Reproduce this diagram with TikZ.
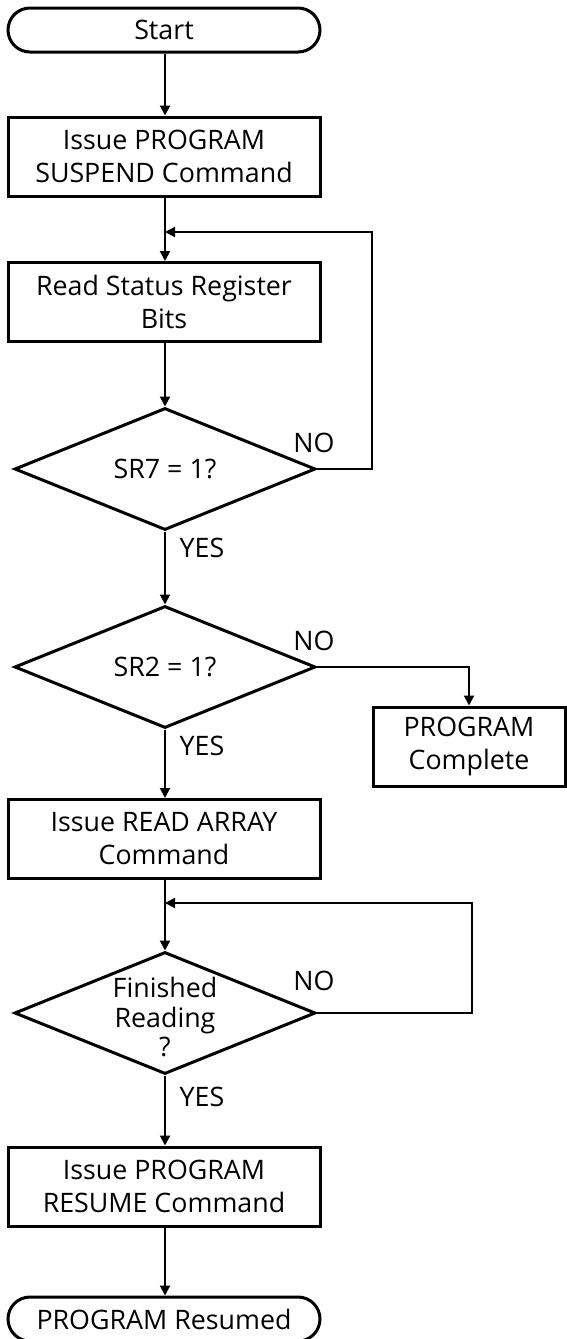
\documentclass[tikz,border=0pt]{standalone}
\usepackage{fontspec}
\setmainfont{Open Sans}
\usetikzlibrary{shapes.geometric,arrows.meta}
\begin{document}
\begin{tikzpicture}[x=1pt,y=-1pt,
  txt/.style={font=\fontsize{26.8}{33}\selectfont},
  box/.style={draw, line width=3pt, minimum width=312pt, minimum height=79pt, align=center, inner sep=0pt, txt},
  term/.style={draw, line width=3pt, rounded corners=22pt, minimum width=312pt, minimum height=44pt, inner sep=0pt, txt},
  dec/.style={draw, diamond, line width=3pt, minimum width=301pt, minimum height=122pt, inner sep=0pt},
  lbl/.style={inner sep=0pt, txt, align=center},
  conn/.style={line width=2pt, -{Triangle[length=10pt,width=10pt]}}
]
\useasboundingbox (0,0) rectangle (566,1339);

\node[term] (start) at (164,30) {Start};
\node[box] (b1) at (164,156.5) {Issue PROGRAM\\SUSPEND Command};
\node[box] (b2) at (164,302) {Read Status Register\\Bits};
\node[dec] (d1) at (165,469) {};
\node[lbl] (t1) at (165,469) {SR7 = 1?};
\node[dec] (d2) at (165,667) {};
\node[lbl] (t2) at (165,667) {SR2 = 1?};
\node[box, minimum width=192pt] (pc) at (469,746.5) {PROGRAM\\Complete};
\node[box] (b3) at (164,839) {Issue READ ARRAY\\Command};
\node[dec] (d3) at (165,1013) {};
\node[lbl, font=\fontsize{26.8}{29.5}\selectfont] (t3) at (165,1017) {Finished\\Reading\\?};
\node[box] (b4) at (164,1186.5) {Issue PROGRAM\\RESUME Command};
\node[term] (end) at (164,1319) {PROGRAM Resumed};

\coordinate (j1) at (165,232);
\coordinate (r1) at (372,232);
\coordinate (j2) at (165,903);
\coordinate (r2) at (472,903);

\draw[conn] (start.south -| j1) -- (b1.north -| j1);
\draw[conn] (b1.south -| j1) -- (b2.north -| j1);
\draw[conn] (b2.south -| j1) -- (d1.north);
\draw[conn] (d1.east) -| (r1) -- (j1);
\draw[conn] (d1.south) -- (d2.north);
\draw[conn] (d2.east) -| (pc.north);
\draw[conn] (d2.south) -- (b3.north -| d2.south);
\draw[conn] (b3.south -| j2) -- (d3.north);
\draw[conn] (d3.east) -| (r2) -- (j2);
\draw[conn] (d3.south) -- (b4.north -| d3.south);
\draw[conn] (b4.south -| j1) -- (end.north -| j1);

\node[lbl] (no1) at (314,443) {NO};
\node[lbl] (yes1) at (202,548) {YES};
\node[lbl] (no2) at (314,641) {NO};
\node[lbl] (yes2) at (202,746) {YES};
\node[lbl] (no3) at (314,981) {NO};
\node[lbl] (yes3) at (202,1097) {YES};
\end{tikzpicture}
\end{document}
